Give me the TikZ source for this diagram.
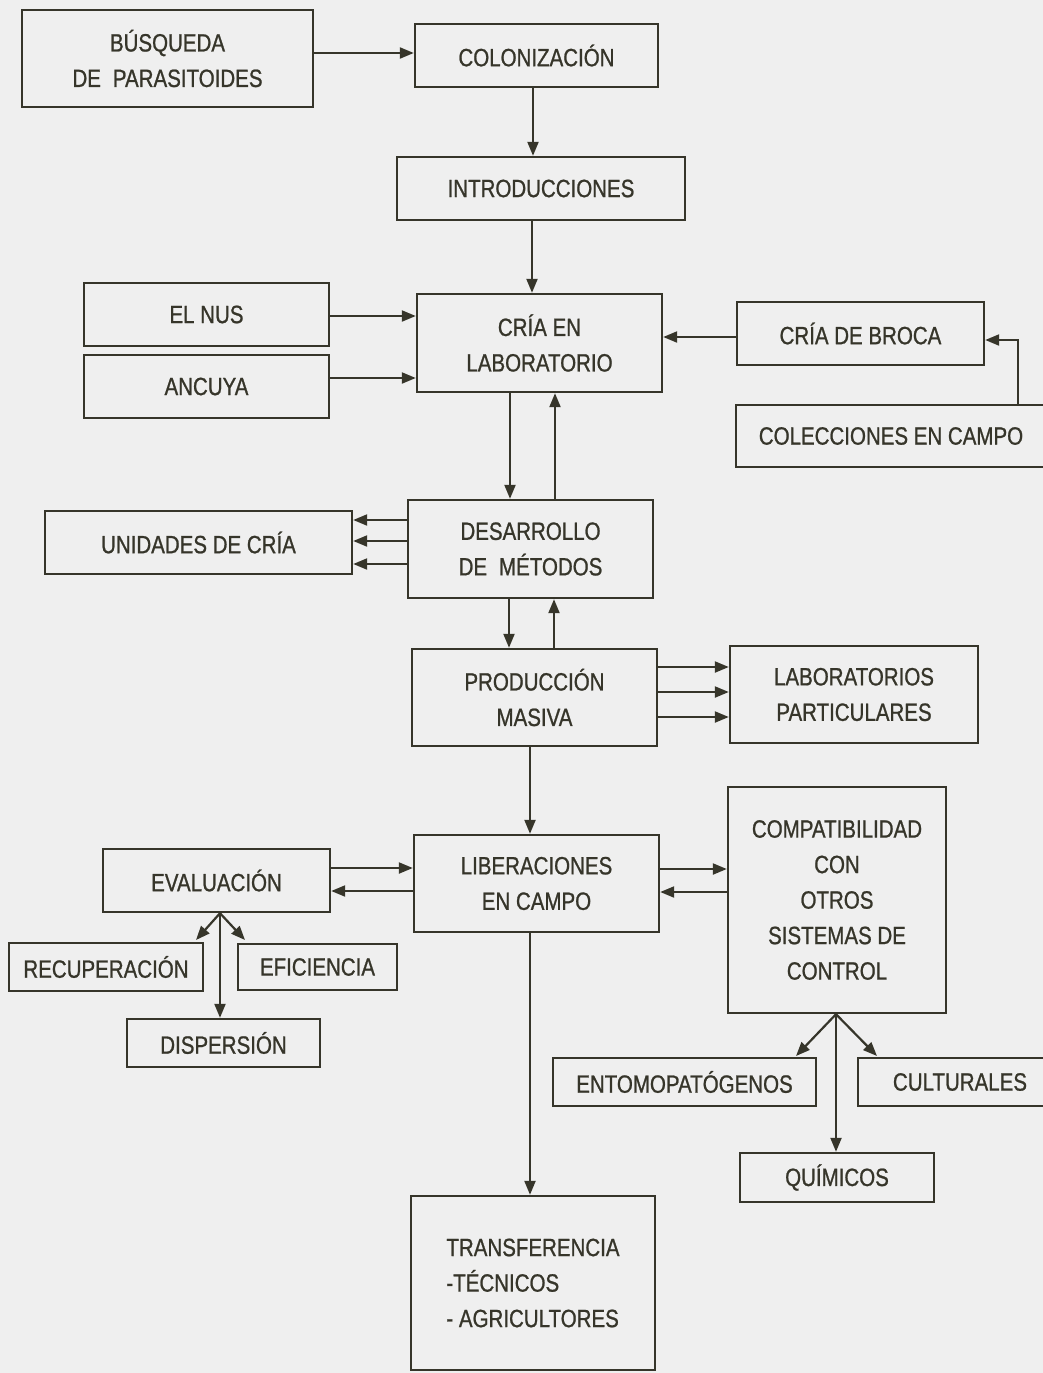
\documentclass[tikz,border=0pt]{standalone}
\usepackage{fontspec}
\setmainfont{Liberation Sans}[FakeStretch=0.82,FakeBold=0.9]
\usetikzlibrary{arrows.meta}
\definecolor{bg}{HTML}{EFEFEF}
\definecolor{ink}{HTML}{36352A}
\tikzset{
  box/.style={draw=ink, line width=2.4pt, inner sep=0pt, align=center, text=ink,
    font=\fontsize{25}{35.5}\selectfont},
  conn/.style={draw=ink, line width=2.2pt, -{Triangle[length=14pt,width=11pt]}},
  plain/.style={draw=ink, line width=2.2pt}
}
\begin{document}
\begin{tikzpicture}[x=1pt,y=-1pt]
\fill[bg] (0,0) rectangle (1043,1373);
\useasboundingbox (0,0) rectangle (1043,1373);
\clip (0,0) rectangle (1043,1373);

\node[box, minimum width=291pt, minimum height=97pt] (busq) at (167.5,58.5) {BÚSQUEDA\\DE\hspace{0.25em} PARASITOIDES};
\node[box, minimum width=243pt, minimum height=63pt] (colon) at (536.5,55.5) {COLONIZACIÓN};
\node[box, minimum width=288pt, minimum height=63pt] (intro) at (541,188.5) {INTRODUCCIONES};
\node[box, minimum width=245pt, minimum height=98pt] (cria) at (539.5,343) {CRÍA EN\\LABORATORIO};
\node[box, minimum width=245pt, minimum height=63pt] (nus) at (206.5,314.5) {EL NUS};
\node[box, minimum width=245pt, minimum height=63pt] (ancuya) at (206.5,386.5) {ANCUYA};
\node[box, minimum width=247pt, minimum height=63pt] (broca) at (860.5,333.5) {CRÍA DE BROCA};
\node[box, minimum width=310pt, minimum height=62pt] (colecc) at (891,436) {COLECCIONES EN CAMPO};
\node[box, minimum width=245pt, minimum height=98pt] (desarr) at (530.5,549) {DESARROLLO\\DE\hspace{0.25em} MÉTODOS};
\node[box, minimum width=307pt, minimum height=63pt] (unid) at (198.5,542.5) {UNIDADES DE CRÍA};
\node[box, minimum width=245pt, minimum height=97pt] (prod) at (534.5,697.5) {PRODUCCIÓN\\MASIVA};
\node[box, minimum width=248pt, minimum height=97pt] (labs) at (854,694.5) {LABORATORIOS\\PARTICULARES};
\node[box, minimum width=245pt, minimum height=97pt] (liber) at (536.5,883.5) {LIBERACIONES\\EN CAMPO};
\node[box, minimum width=227pt, minimum height=63pt] (eval) at (216.5,880.5) {EVALUACIÓN};
\node[box, minimum width=218pt, minimum height=226pt] (compat) at (837,900) {COMPATIBILIDAD\\CON\\OTROS\\SISTEMAS DE\\CONTROL};
\node[box, minimum width=194pt, minimum height=48pt] (recup) at (106,967) {RECUPERACIÓN};
\node[box, minimum width=159pt, minimum height=46pt] (efic) at (317.5,967) {EFICIENCIA};
\node[box, minimum width=193pt, minimum height=48pt] (disp) at (223.5,1043) {DISPERSIÓN};
\node[box, minimum width=263pt, minimum height=48pt] (entomo) at (684.5,1082) {ENTOMOPATÓGENOS};
\node[box, minimum width=204pt, minimum height=48pt] (cultur) at (960,1082) {CULTURALES};
\node[box, minimum width=194pt, minimum height=49pt] (quim) at (837,1177.5) {QUÍMICOS};
\node[box, minimum width=244pt, minimum height=174pt, align=left] (transf) at (533,1283) {TRANSFERENCIA\\-TÉCNICOS\\- AGRICULTORES};

% top chain
\draw[conn] (busq.east |- 0,53) -- (colon.west |- 0,53);
\draw[conn] (533,0 |- colon.south) -- (533,0 |- intro.north);
\draw[conn] (532,0 |- intro.south) -- (532,0 |- cria.north);
\draw[conn] (nus.east |- 0,316) -- (cria.west |- 0,316);
\draw[conn] (ancuya.east |- 0,378) -- (cria.west |- 0,378);
\draw[conn] (broca.west |- 0,337) -- (cria.east |- 0,337);
\coordinate (bend) at (1018,340);
\draw[conn] (1018,0 |- colecc.north) -- (bend) -- (broca.east |- bend);

% cria <-> desarrollo
\draw[conn] (510,0 |- cria.south) -- (510,0 |- desarr.north);
\draw[conn] (555,0 |- desarr.north) -- (555,0 |- cria.south);
% desarrollo -> unidades
\foreach \yy in {520,541,564}{
  \draw[conn] (desarr.west |- 0,\yy) -- (unid.east |- 0,\yy);
}
% desarrollo <-> produccion
\draw[conn] (509,0 |- desarr.south) -- (509,0 |- prod.north);
\draw[conn] (554,0 |- prod.north) -- (554,0 |- desarr.south);
% produccion -> laboratorios
\foreach \yy in {667,692,717}{
  \draw[conn] (prod.east |- 0,\yy) -- (labs.west |- 0,\yy);
}
% produccion -> liberaciones
\draw[conn] (530,0 |- prod.south) -- (530,0 |- liber.north);
% evaluacion <-> liberaciones
\draw[conn] (eval.east |- 0,868) -- (liber.west |- 0,868);
\draw[conn] (liber.west |- 0,891) -- (eval.east |- 0,891);
% liberaciones <-> compatibilidad
\draw[conn] (liber.east |- 0,869) -- (compat.west |- 0,869);
\draw[conn] (compat.west |- 0,892) -- (liber.east |- 0,892);
% evaluacion branches
\coordinate (ev) at (220,0 |- eval.south);
\draw[conn] (ev) -- (196,940);
\draw[conn] (ev) -- (245,940);
\draw[conn] (ev) -- (ev |- disp.north);
% compat branches
\coordinate (cp) at (836,0 |- compat.south);
\draw[conn] (cp) -- (796,1056);
\draw[conn] (cp) -- (877,1056);
\draw[conn] (cp) -- (cp |- quim.north);
% liberaciones -> transferencia
\draw[conn] (530,0 |- liber.south) -- (530,0 |- transf.north);
\end{tikzpicture}
\end{document}
